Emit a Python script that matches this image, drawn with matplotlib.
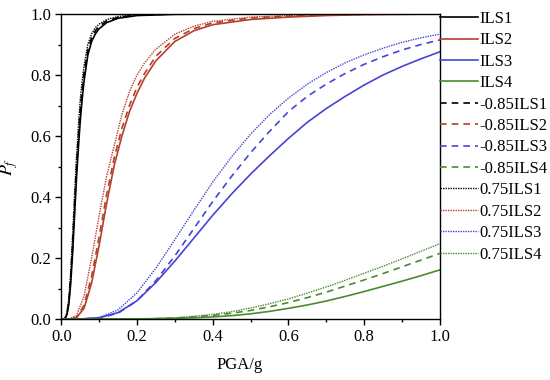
import numpy as np
import matplotlib
matplotlib.use("Agg")
import matplotlib.pyplot as plt
from matplotlib.ticker import MultipleLocator

# ____________________________________________________________________________________________________
# Data

# ILS1 family
x_ils1 = [0.0, 0.005, 0.01, 0.015, 0.02, 0.025, 0.03, 0.035, 0.04, 0.045, 0.05, 0.055, 0.06,
          0.07, 0.08, 0.09, 0.1, 0.12, 0.15, 0.2, 0.3, 0.4, 1.0]
ils1 = [0.0, 0.0, 0.002, 0.015, 0.05, 0.12, 0.22, 0.34, 0.46, 0.56, 0.65, 0.72, 0.78,
        0.865, 0.91, 0.935, 0.952, 0.972, 0.986, 0.995, 0.999, 1.0, 1.0]
ils1_085 = [0.0, 0.0, 0.002, 0.018, 0.06, 0.14, 0.25, 0.375, 0.495, 0.595, 0.685, 0.75, 0.805,
            0.88, 0.922, 0.945, 0.96, 0.977, 0.989, 0.997, 1.0, 1.0, 1.0]
ils1_075 = [0.0, 0.0, 0.003, 0.022, 0.07, 0.16, 0.28, 0.41, 0.53, 0.63, 0.72, 0.78, 0.83,
            0.90, 0.935, 0.955, 0.967, 0.982, 0.992, 0.998, 1.0, 1.0, 1.0]

# ILS2 family
x_ils2 = [0.0, 0.02, 0.04, 0.06, 0.08, 0.1, 0.12, 0.14, 0.16, 0.18, 0.2, 0.22, 0.25,
          0.3, 0.35, 0.4, 0.5, 0.6, 0.7, 0.8, 1.0]
ils2 = [0.0, 0.0, 0.004, 0.035, 0.118, 0.242, 0.381, 0.505, 0.60, 0.68, 0.74, 0.79, 0.847,
        0.91, 0.945, 0.965, 0.982, 0.990, 0.995, 0.998, 1.0]
ils2_085 = [0.0, 0.0, 0.005, 0.045, 0.14, 0.27, 0.41, 0.53, 0.625, 0.70, 0.76, 0.805, 0.862,
            0.92, 0.952, 0.971, 0.987, 0.993, 0.997, 0.999, 1.0]
ils2_075 = [0.0, 0.0, 0.011, 0.075, 0.2, 0.34, 0.47, 0.57, 0.67, 0.745, 0.80, 0.84, 0.885,
            0.934, 0.96, 0.976, 0.990, 0.995, 0.998, 0.999, 1.0]

# ILS3 family
x_ils3 = [0.0, 0.05, 0.1, 0.15, 0.2, 0.25, 0.3, 0.35, 0.4, 0.45, 0.5, 0.55, 0.6, 0.65,
          0.7, 0.75, 0.8, 0.85, 0.9, 0.95, 1.0]
ils3 = [0.0, 0.0, 0.004, 0.021, 0.06, 0.12, 0.19, 0.265, 0.34, 0.41, 0.475, 0.535, 0.592, 0.645,
        0.69, 0.73, 0.767, 0.80, 0.828, 0.853, 0.876]
ils3_085 = [0.0, 0.0, 0.003, 0.019, 0.06, 0.126, 0.207, 0.296, 0.385, 0.468, 0.545, 0.615, 0.68, 0.73,
            0.77, 0.805, 0.835, 0.86, 0.882, 0.90, 0.915]
ils3_075 = [0.0, 0.0, 0.005, 0.03, 0.086, 0.167, 0.26, 0.356, 0.449, 0.532, 0.606, 0.67, 0.724, 0.77,
            0.808, 0.84, 0.866, 0.888, 0.907, 0.922, 0.934]

# ILS4 family
x_ils4 = [0.0, 0.1, 0.2, 0.25, 0.3, 0.35, 0.4, 0.45, 0.5, 0.55, 0.6, 0.65, 0.7, 0.75,
          0.8, 0.85, 0.9, 0.95, 1.0]
ils4 = [0.0, 0.0, 0.0, 0.001, 0.002, 0.004, 0.007, 0.011, 0.017, 0.025, 0.035, 0.046, 0.059, 0.074,
        0.09, 0.107, 0.124, 0.142, 0.161]
ils4_085 = [0.0, 0.0, 0.0, 0.001, 0.003, 0.007, 0.012, 0.019, 0.028, 0.04, 0.054, 0.07, 0.088, 0.108,
            0.128, 0.149, 0.171, 0.193, 0.215]
ils4_075 = [0.0, 0.0, 0.001, 0.002, 0.004, 0.009, 0.015, 0.024, 0.036, 0.05, 0.066, 0.085, 0.105, 0.127,
            0.15, 0.173, 0.197, 0.222, 0.247]

labels = ["ILS1", "ILS2", "ILS3", "ILS4",
          "-0.85ILS1", "-0.85ILS2", "-0.85ILS3", "-0.85ILS4",
          "0.75ILS1", "0.75ILS2", "0.75ILS3", "0.75ILS4"]

# ____________________________________________________________________________________________________
# Styles

colors = ["#000000", "#b5402a", "#4545d5", "#4a8a30"]
styles = ["-", (0, (4, 3)), (0, (1, 0.8))]

plt.rcParams["font.family"] = ["Liberation Serif", "DejaVu Serif"]
plt.rcParams["mathtext.fontset"] = "stix"

fig = plt.figure(figsize=(5.5, 3.8), dpi=100)
ax = fig.add_axes([0.1115, 0.1605, 0.6881, 0.8026])

families = [
    (x_ils1, [ils1, ils1_085, ils1_075]),
    (x_ils2, [ils2, ils2_085, ils2_075]),
    (x_ils3, [ils3, ils3_085, ils3_075]),
    (x_ils4, [ils4, ils4_085, ils4_075]),
]

# draw in legend order: solid, dashed, dotted
lines = []
for k in range(3):
    for i, (xs, ys) in enumerate(families):
        lw = 1.2 if k < 2 else 1.0
        ln, = ax.plot(xs, ys[k], color=colors[i], linestyle=styles[k], linewidth=lw)
        lines.append(ln)

# ____________________________________________________________________________________________________
# Axes

ax.set_xlim(0, 1.0)
ax.set_ylim(0, 1.0)
ax.xaxis.set_major_locator(MultipleLocator(0.2))
ax.xaxis.set_minor_locator(MultipleLocator(0.1))
ax.yaxis.set_major_locator(MultipleLocator(0.2))
ax.yaxis.set_minor_locator(MultipleLocator(0.1))
ax.xaxis.set_major_formatter(lambda v, p: f"{v:.1f}")
ax.yaxis.set_major_formatter(lambda v, p: f"{v:.1f}")
ax.tick_params(which="major", direction="out", length=4, width=1, labelsize=12, pad=3)
ax.tick_params(which="minor", direction="out", length=2.5, width=1)
for s in ax.spines.values():
    s.set_linewidth(1.0)

ax.set_xlabel("PGA/g", fontsize=12)
ax.xaxis.set_label_coords(0.47, -0.125)
ax.set_ylabel(r"$P_f$", fontsize=13)
ax.yaxis.set_label_coords(-0.108, 0.5)

ax.legend(lines, labels, loc="upper left", bbox_to_anchor=(1.0, 1.01), frameon=False,
          fontsize=12, handlelength=2.3, handletextpad=0.05, borderaxespad=0, borderpad=0.0,
          labelspacing=0.325)

fig.savefig("out.png", dpi=100)
